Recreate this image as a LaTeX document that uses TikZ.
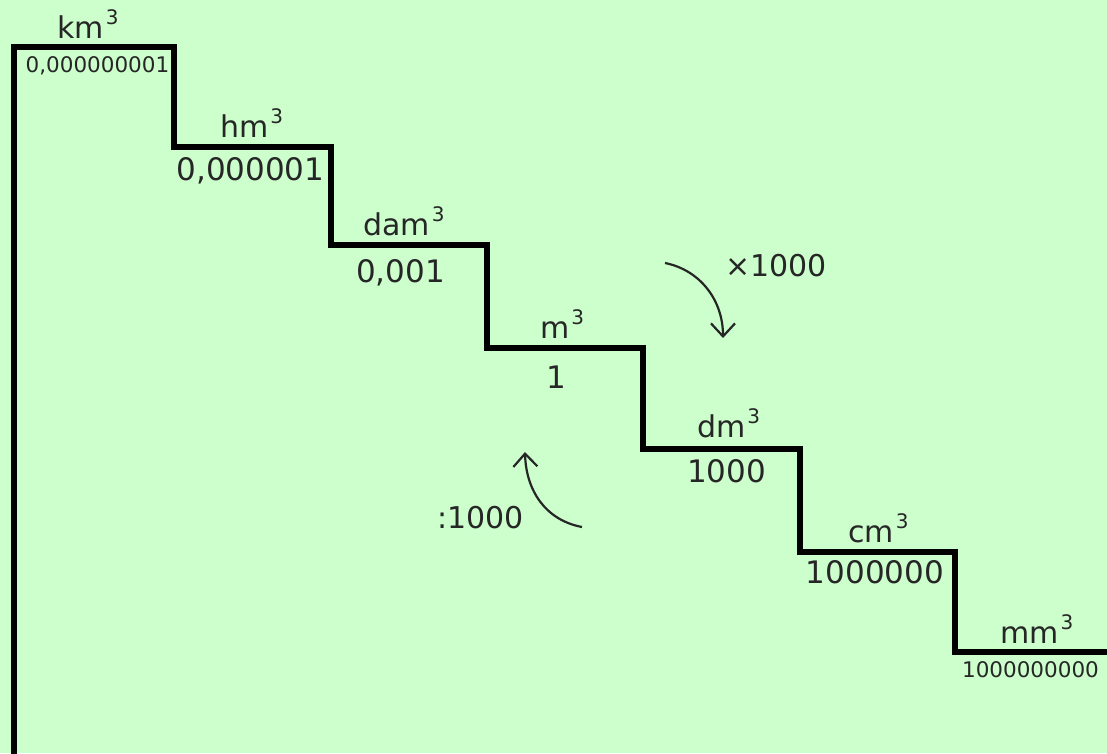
\documentclass[tikz,border=0pt]{standalone}
\usepackage{fontspec}
\setmainfont{DejaVu Sans}
\usetikzlibrary{arrows.meta}
\definecolor{bg}{HTML}{CCFFCC}
\definecolor{ink}{HTML}{262626}
\newcommand{\cubesup}{\kern2pt\raisebox{14pt}{\fontsize{20}{20}\selectfont 3}}
\begin{document}
\begin{tikzpicture}[x=1pt,y=-1pt,
  unit/.style={anchor=base west,inner sep=0pt,text=ink,font=\fontsize{30}{30}\selectfont},
  val/.style={anchor=base,inner sep=0pt,text=ink,font=\fontsize{31}{31}\selectfont},
  smallval/.style={anchor=base,inner sep=0pt,text=ink,font=\fontsize{21.5}{21.5}\selectfont},
  stair/.style={line width=6pt,black,line join=miter},
  turn/.style={line width=2.2pt,ink,-{Straight Barb[length=13pt,width=24pt]}}]
\useasboundingbox (0,0) rectangle (1107,753);
\fill[bg] (0,0) rectangle (1107,753);
% staircase
\draw[stair] (14,756) -- (14,46.5) -- (174,46.5) -- (174,146.7) -- (331,146.7)
  -- (331,245) -- (486.5,245) -- (486.5,348) -- (643,348) -- (643,449)
  -- (800,449) -- (800,552) -- (955,552) -- (955,652) -- (1110,652);
% unit labels
\node[unit] (km) at (57,38) {km\cubesup};
\node[unit] (hm) at (220,137) {hm\cubesup};
\node[unit] (dam) at (363,235) {dam\cubesup};
\node[unit] (m) at (540,338) {m\cubesup};
\node[unit] (dm) at (697,437) {dm\cubesup};
\node[unit] (cm) at (848,542) {cm\cubesup};
\node[unit] (mm) at (1000,643) {mm\cubesup};
% values
\node[smallval] (vkm) at (97.5,72) {0,000000001};
\node[val] (vhm) at (250.5,180) {0,000001};
\node[val] (vdam) at (400.5,282) {0,001};
\node[val] (vm) at (556,388) {1};
\node[val] (vdm) at (726.5,482) {1000};
\node[val] (vcm) at (875,583) {1000000};
\node[smallval] (vmm) at (1030.5,677) {1000000000};
% conversion arrows
\node[unit] (mul) at (725,276) {×1000};
\node[unit] (div) at (437,528) {:1000};
\coordinate (mulA) at (665,263);
\coordinate (mulB) at (723,338);
\coordinate (divA) at (582,527);
\coordinate (divB) at (525,452);
\draw[turn] (mulA) .. controls (700,270) and (723,300) .. (mulB);
\draw[turn] (divA) .. controls (545,520) and (526,490) .. (divB);
\end{tikzpicture}
\end{document}
